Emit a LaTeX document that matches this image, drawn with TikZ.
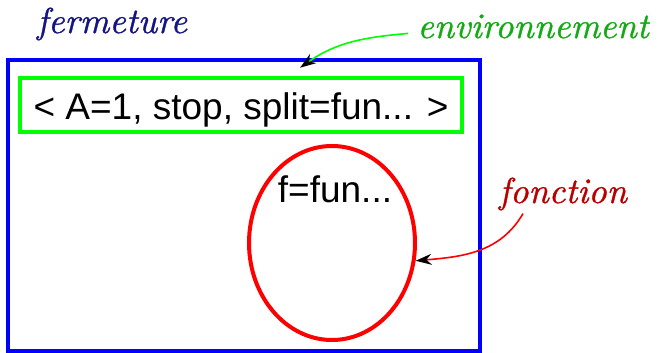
\documentclass[tikz,border=0pt]{standalone}
\usepackage{fontspec}
\setsansfont{Liberation Sans}
\newfontface\labfont{lmroman10-italic.otf}[FakeBold=0.9]
\usetikzlibrary{shapes,arrows.meta,positioning}

\definecolor{fermblue}{RGB}{20,20,130}
\definecolor{envgreen}{RGB}{20,170,20}
\definecolor{foncred}{RGB}{185,0,0}

\begin{document}
\begin{tikzpicture}[
    x=1pt, y=-1pt,
    outerbox/.style={rectangle, draw=blue, line width=4pt, minimum width=472pt, minimum height=291pt},
    envbox/.style={rectangle, draw=green, line width=4.5pt, minimum width=442pt, minimum height=54pt, inner sep=0pt, text height=28pt, text depth=0pt, font=\sffamily\fontsize{37}{40}\selectfont},
    funbox/.style={ellipse, draw=red, line width=4pt, minimum width=166pt, minimum height=194pt},
    codetext/.style={font=\sffamily\fontsize{37}{40}\selectfont, inner sep=0pt, anchor=base},
    lab/.style={font=\labfont\fontsize{36}{40}\selectfont, inner sep=0pt, anchor=base},
    arrow/.style={-{Stealth[black, length=16pt, width=11pt]}, line width=1.6pt}
]
\useasboundingbox (0,0) rectangle (662,353);

% Closure frame
\node[outerbox] (ferm) at (244,205.5) {};
\node[lab, text=fermblue] (fermlab) at (112,33) {fermeture};

% Environment
\node[envbox] (env) at (241,105) {< A=1, stop, split=fun... >};
\node[lab, text=envgreen] (envlab) at (533,38) {environnement};

% Function
\node[funbox] (fun) at (332,243) {};
\node[codetext] (funtext) at (335,202) {f=fun...};
\node[lab, text=foncred] (fonclab) at (563,203) {fonction};

% Arrows
\draw[arrow, green] ([xshift=-9pt,yshift=-7pt]envlab.west) to[out=185, in=35] ([xshift=59pt,yshift=8pt]env.north);
\draw[arrow, red] ([xshift=-40pt,yshift=-3pt]fonclab.south) to[out=240, in=5] (fun.-12);

\end{tikzpicture}
\end{document}
